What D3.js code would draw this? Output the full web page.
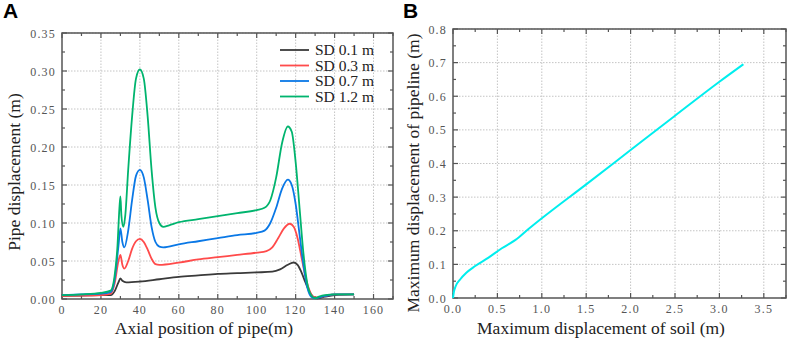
<!DOCTYPE html>
<html>
<head>
<meta charset="utf-8">
<script src="https://cdn.jsdelivr.net/npm/d3@7"></script>
<style>
  body { margin: 0; background: #fff; }
  svg { display: block; }
  .tick-label { font-family: "Liberation Serif", serif; font-size: 12px; fill: #555; letter-spacing: 1.2px; }
  .axis-title { font-family: "Liberation Serif", serif; font-size: 17.5px; fill: #222; }
  .legend text { font-family: "Liberation Serif", serif; font-size: 15.5px; fill: #222; }
  .panel-label { font-family: "Liberation Sans", Arial, sans-serif; font-size: 21px; font-weight: bold; fill: #000; }
</style>
</head>
<body>
<svg id="chart" width="789" height="339"></svg>
<script>
"use strict";

// Panel A: pipe displacement along the axis for each soil displacement (SD)
const seriesNames = ["SD 0.1 m", "SD 0.3 m", "SD 0.7 m", "SD 1.2 m"];
const seriesColors = ["#3a3a3a", "#ff4b4b", "#0a78e6", "#00b46e"];

const sd01 = [[0,0.004],[10,0.0045],[20,0.005],[25,0.005],[27,0.01],[29,0.022],[30,0.027],[31,0.024],[33,0.022],[40,0.023],[50,0.026],[60,0.029],[70,0.031],[80,0.033],[90,0.034],[100,0.035],[108,0.036],[112,0.039],[116,0.045],[119,0.048],[121,0.045],[123,0.035],[125,0.022],[127,0.01],[129,0.003],[131,0.001],[135,0.003],[140,0.005],[150,0.006]];
const sd03 = [[0,0.004],[10,0.0045],[20,0.005],[25,0.007],[27,0.02],[29,0.05],[30,0.058],[31,0.045],[32,0.04],[34,0.05],[36,0.066],[38,0.076],[40,0.079],[42,0.075],[44,0.065],[46,0.053],[48,0.046],[50,0.045],[60,0.048],[70,0.052],[80,0.055],[90,0.058],[100,0.061],[105,0.063],[108,0.068],[111,0.08],[114,0.093],[117,0.099],[119,0.095],[121,0.08],[123,0.055],[125,0.03],[127,0.012],[129,0.003],[131,0.002],[135,0.004],[140,0.006],[150,0.006]];
const sd07 = [[0,0.005],[10,0.006],[20,0.007],[25,0.009],[27,0.025],[29,0.07],[30,0.093],[31,0.075],[32,0.068],[34,0.09],[36,0.13],[38,0.162],[40,0.17],[42,0.16],[44,0.13],[46,0.095],[48,0.075],[50,0.069],[52,0.068],[60,0.072],[70,0.076],[80,0.08],[90,0.084],[100,0.087],[104,0.09],[107,0.1],[110,0.12],[113,0.145],[116,0.157],[118,0.15],[120,0.125],[122,0.085],[124,0.045],[126,0.015],[128,0.003],[130,0.001],[135,0.004],[140,0.006],[150,0.006]];
const sd12 = [[0,0.005],[10,0.006],[20,0.008],[25,0.011],[27,0.03],[28.5,0.07],[29.5,0.12],[30,0.135],[30.5,0.11],[31.5,0.095],[32.5,0.11],[34,0.17],[36,0.24],[38,0.29],[40,0.302],[42,0.29],[44,0.24],[46,0.17],[48,0.12],[50,0.1],[52,0.095],[55,0.097],[60,0.101],[70,0.105],[80,0.109],[90,0.113],[100,0.117],[104,0.12],[107,0.13],[110,0.16],[113,0.205],[116,0.227],[118,0.22],[120,0.18],[122,0.12],[124,0.06],[126,0.02],[128,0.005],[130,0.001],[132,0.003],[135,0.005],[140,0.006],[150,0.006]];
const seriesA = [sd01, sd03, sd07, sd12];

const xTicksA = [0, 20, 40, 60, 80, 100, 120, 140, 160];
const yTicksA = [0, 0.05, 0.1, 0.15, 0.2, 0.25, 0.3, 0.35];

// Panel B: maximum pipeline displacement vs maximum soil displacement
const soilMax = [0, 0.01, 0.03, 0.08, 0.15, 0.25, 0.4, 0.55, 0.7, 0.85, 1.0, 1.5, 2.0, 2.5, 3.0, 3.27];
const pipeMax = [0, 0.018, 0.035, 0.055, 0.075, 0.095, 0.12, 0.148, 0.172, 0.205, 0.237, 0.338, 0.44, 0.542, 0.643, 0.695];

const xTicksB = [0, 0.5, 1, 1.5, 2, 2.5, 3, 3.5];
const yTicksB = [0, 0.1, 0.2, 0.3, 0.4, 0.5, 0.6, 0.7, 0.8];

const svg = d3.select("#chart");

function drawFrame(g, x, y, xt, yt, xMinor, yMinor, xFmt, yFmt) {
  const [x0, x1] = x.range();
  const [y0, y1] = y.range(); // y0 bottom, y1 top

  // dotted grid
  g.append("g").selectAll("line").data(xt.filter(d => d > x.domain()[0])).join("line")
    .attr("x1", d => x(d)).attr("x2", d => x(d)).attr("y1", y0).attr("y2", y1)
    .attr("stroke", "#c4c4c4").attr("stroke-dasharray", "1.5,1.5");
  g.append("g").selectAll("line").data(yt.filter(d => d > y.domain()[0])).join("line")
    .attr("y1", d => y(d)).attr("y2", d => y(d)).attr("x1", x0).attr("x2", x1)
    .attr("stroke", "#c4c4c4").attr("stroke-dasharray", "1.5,1.5");

  // inward ticks on all four sides
  const ticks = g.append("g").attr("stroke", "#555").attr("stroke-width", 1.2);
  const xs = d3.range(x.domain()[0], x.domain()[1] + 1e-9, xMinor);
  const ys = d3.range(y.domain()[0], y.domain()[1] + 1e-9, yMinor);
  const isMajor = (v, arr) => arr.some(t => Math.abs(t - v) < 1e-6);
  xs.forEach(v => {
    const len = isMajor(v, xt) ? 5 : 3;
    ticks.append("line").attr("x1", x(v)).attr("x2", x(v)).attr("y1", y0).attr("y2", y0 - len);
    ticks.append("line").attr("x1", x(v)).attr("x2", x(v)).attr("y1", y1).attr("y2", y1 + len);
  });
  ys.forEach(v => {
    const len = isMajor(v, yt) ? 5 : 3;
    ticks.append("line").attr("y1", y(v)).attr("y2", y(v)).attr("x1", x0).attr("x2", x0 + len);
    ticks.append("line").attr("y1", y(v)).attr("y2", y(v)).attr("x1", x1).attr("x2", x1 - len);
  });

  g.append("rect").attr("x", x0).attr("y", y1).attr("width", x1 - x0).attr("height", y0 - y1)
    .attr("fill", "none").attr("stroke", "#555").attr("stroke-width", 1.5);

  g.append("g").selectAll("text").data(xt).join("text")
    .attr("class", "tick-label").attr("x", d => x(d)).attr("y", y0 + 15)
    .attr("text-anchor", "middle").text(xFmt);
  g.append("g").selectAll("text").data(yt).join("text")
    .attr("class", "tick-label").attr("x", x0 - 6).attr("y", d => y(d) + 4.5)
    .attr("text-anchor", "end").text(yFmt);
}

// ---- Panel A ----
const xA = d3.scaleLinear().domain([0, 170]).range([62, 393]);
const yA = d3.scaleLinear().domain([0, 0.35]).range([299, 33]);
const gA = svg.append("g");
drawFrame(gA, xA, yA, xTicksA, yTicksA, 10, 0.025, d3.format("d"), d3.format(".2f"));

const lineA = d3.line().x(d => xA(d[0])).y(d => yA(d[1])).curve(d3.curveMonotoneX);
gA.append("g").selectAll("path").data(seriesA).join("path")
  .attr("d", lineA).attr("fill", "none")
  .attr("stroke", (d, i) => seriesColors[i]).attr("stroke-width", 1.8);

const legend = gA.append("g").attr("class", "legend");
seriesNames.forEach((name, i) => {
  const ly = 50 + i * 15.5;
  legend.append("line").attr("x1", 280).attr("x2", 309).attr("y1", ly).attr("y2", ly)
    .attr("stroke", seriesColors[i]).attr("stroke-width", 1.8);
  legend.append("text").attr("x", 315).attr("y", ly + 5).text(name);
});

gA.append("text").attr("class", "axis-title").attr("x", 204).attr("y", 334)
  .attr("text-anchor", "middle").text("Axial position of pipe(m)");
gA.append("text").attr("class", "axis-title")
  .attr("transform", "translate(20,172) rotate(-90)")
  .attr("text-anchor", "middle").text("Pipe displacement (m)");
gA.append("text").attr("class", "panel-label").attr("x", 3).attr("y", 18).text("A");

// ---- Panel B ----
const xB = d3.scaleLinear().domain([0, 3.75]).range([453, 786]);
const yB = d3.scaleLinear().domain([0, 0.8]).range([298, 29]);
const gB = svg.append("g");
drawFrame(gB, xB, yB, xTicksB, yTicksB, 0.25, 0.05, d3.format(".1f"), d3.format(".1f"));

const lineB = d3.line().x(d => xB(d[0])).y(d => yB(d[1])).curve(d3.curveMonotoneX);
gB.append("path").datum(soilMax.map((s, i) => [s, pipeMax[i]]))
  .attr("d", lineB).attr("fill", "none").attr("stroke", "#00eeee").attr("stroke-width", 2);

gB.append("text").attr("class", "axis-title").attr("x", 601).attr("y", 334)
  .attr("text-anchor", "middle").text("Maximum displacement of soil (m)");
gB.append("text").attr("class", "axis-title")
  .attr("transform", "translate(419,173) rotate(-90)")
  .attr("text-anchor", "middle").text("Maximum displacement of pipeline (m)");
gB.append("text").attr("class", "panel-label").attr("x", 403).attr("y", 18).text("B");
</script>
</body>
</html>
